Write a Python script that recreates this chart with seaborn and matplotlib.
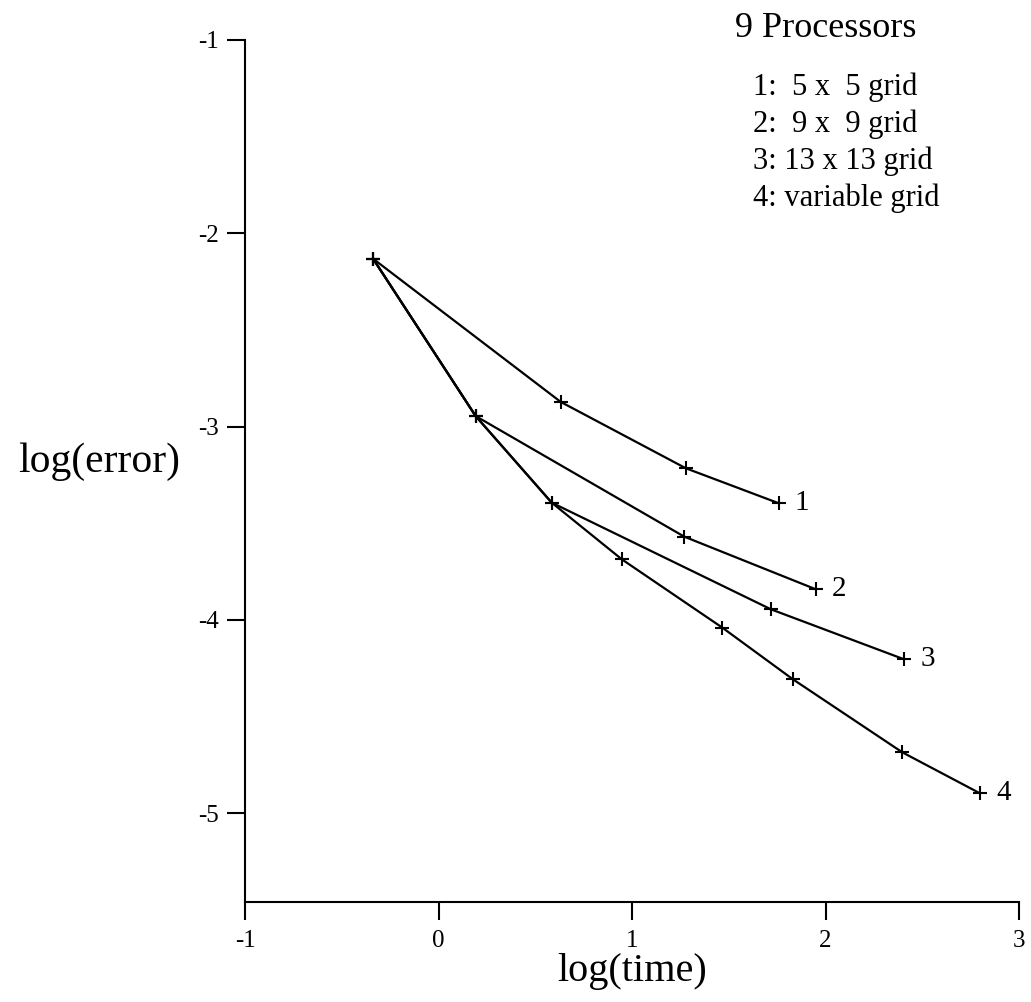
import matplotlib
matplotlib.use("Agg")
import matplotlib.pyplot as plt
import seaborn as sns
import pandas as pd

# ---- data ----
series_names = ["1", "2", "3", "4"]
s1_x = [-0.338, 0.632, 1.278, 1.758]
s1_y = [-2.132, -2.873, -3.216, -3.397]
s2_x = [-0.338, 0.192, 1.270, 1.949]
s2_y = [-2.132, -2.946, -3.570, -3.842]
s3_x = [-0.338, 0.192, 0.585, 1.718, 2.407]
s3_y = [-2.132, -2.946, -3.394, -3.946, -4.205]
s4_x = [-0.338, 0.192, 0.585, 0.947, 1.467, 1.830, 2.397, 2.798]
s4_y = [-2.132, -2.946, -3.394, -3.687, -4.041, -4.307, -4.686, -4.898]

x_ticks = [-1, 0, 1, 2, 3]
y_ticks = [-1, -2, -3, -4, -5]
legend_title = "9 Processors"
legend_lines = ["1:  5 x  5 grid", "2:  9 x  9 grid", "3: 13 x 13 grid", "4: variable grid"]
x_label = "log(time)"
y_label = "log(error)"

xs = [s1_x, s2_x, s3_x, s4_x]
ys = [s1_y, s2_y, s3_y, s4_y]
rows = []
for name, sx, sy in zip(series_names, xs, ys):
    for i, (a, b) in enumerate(zip(sx, sy)):
        rows.append({"series": name, "order": i, "x": a, "y": b})
df = pd.DataFrame(rows)

# ---- style ----
sns.set_style("ticks")
plt.rcParams["font.family"] = ["Liberation Serif", "DejaVu Serif"]
for key in ["text.color", "axes.labelcolor", "xtick.color", "ytick.color", "axes.edgecolor"]:
    plt.rcParams[key] = "black"

W, H = 1031, 1002
fig = plt.figure(figsize=(W / 100, H / 100), dpi=100)
ax = fig.add_axes([245 / W, 1 - 902 / H, (1019 - 245) / W, (902 - 40) / H])

sns.lineplot(data=df, x="x", y="y", units="series", estimator=None, sort=False,
             color="black", linewidth=1.6, marker="+", markersize=10,
             markeredgewidth=1.5, markeredgecolor="black", ax=ax, legend=False)

# end labels
for name, sx, sy in zip(series_names, xs, ys):
    ax.annotate(name, (sx[-1], sy[-1]), xytext=(11.5, 0), textcoords="offset points",
                ha="left", va="center", fontsize=21)

ax.set_xlim(-1, 3)
ax.set_ylim(-1 - 862 / 193.25, -1)
ax.set_xticks(x_ticks)
ax.set_yticks(y_ticks)
ax.set_xticklabels([str(t) for t in x_ticks])
ax.set_yticklabels([str(t) for t in y_ticks])
ax.tick_params(axis="both", direction="out", length=13, width=1.5, labelsize=18,
               color="black", labelcolor="black")
ax.tick_params(axis="x", pad=7)
ax.tick_params(axis="y", pad=6)

for s in ["top", "right"]:
    ax.spines[s].set_visible(False)
for s in ["left", "bottom"]:
    ax.spines[s].set_linewidth(1.5)
    ax.spines[s].set_color("black")

ax.set_xlabel(x_label, fontsize=29, labelpad=1)
ax.set_ylabel("")
fig.text(99 / W, 1 - 462 / H, y_label, fontsize=30, ha="center", va="center")

# legend-like text block
fig.text(735 / W, 1 - 37 / H, legend_title, fontsize=26, ha="left", va="baseline")
for i, line in enumerate(legend_lines):
    fig.text(753 / W, 1 - (95 + 37 * i) / H, line, fontsize=22, ha="left", va="baseline")

fig.savefig("out.png", dpi=100, facecolor="white")
